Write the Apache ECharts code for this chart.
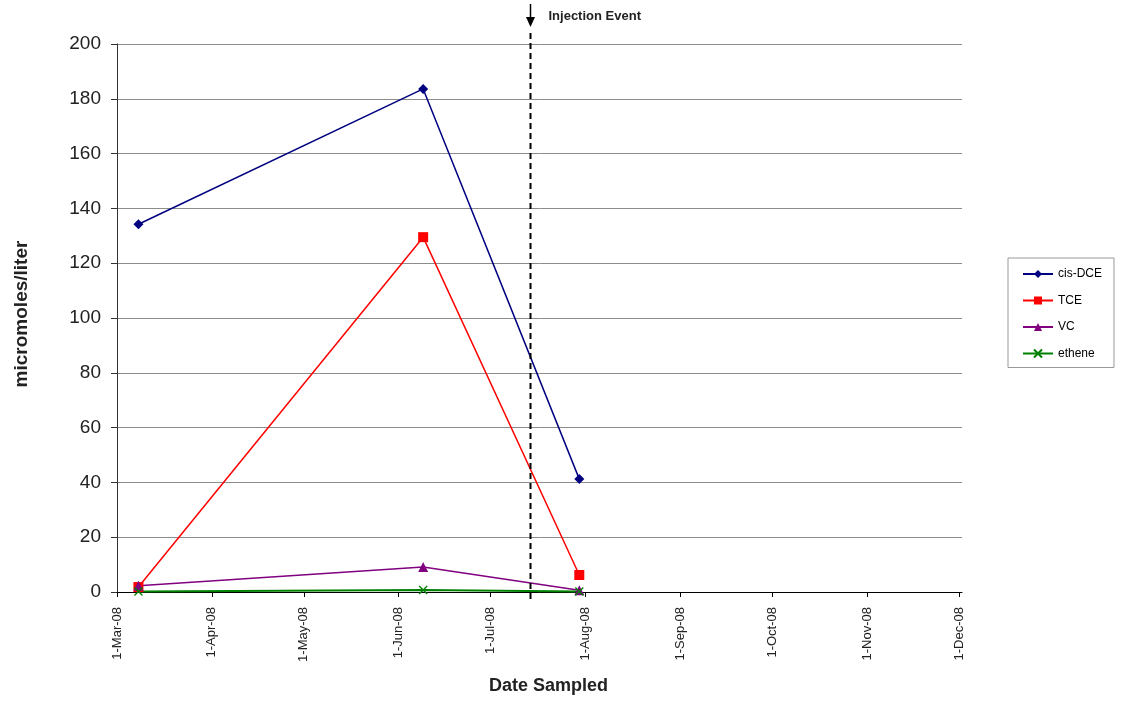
<!DOCTYPE html>
<html>
<head>
<meta charset="utf-8">
<script src="https://cdn.jsdelivr.net/npm/echarts@6/dist/echarts.min.js"></script>
<style>
html,body{margin:0;padding:0;background:#fff;}
#c{width:1127px;height:709px;}
</style>
</head>
<body>
<div id="c"></div>
<script>
// ---- data ----
const sampleDates = ['2008-03-08', '2008-06-09', '2008-07-30'];
const cisDCE = [134.2, 183.6, 41.2];
const TCE = [1.8, 129.5, 6.2];
const VC = [2.3, 9.1, 0.6];
const ethene = [0.2, 0.7, 0.2];
const tickDates = ['2008-03-01','2008-04-01','2008-05-01','2008-06-01','2008-07-01','2008-08-01','2008-09-01','2008-10-01','2008-11-01','2008-12-01'];
const tickLabels = ['1-Mar-08','1-Apr-08','1-May-08','1-Jun-08','1-Jul-08','1-Aug-08','1-Sep-08','1-Oct-08','1-Nov-08','1-Dec-08'];
const injectionDate = '2008-07-14';
const injectionLabel = 'Injection Event';

// days since 1-Mar-08
function dayOf(s) {
  const p = s.split('-').map(Number);
  return Math.round((Date.UTC(p[0], p[1] - 1, p[2]) - Date.UTC(2008, 2, 1)) / 86400000);
}
const sampleDays = sampleDates.map(dayOf);
const tickDays = tickDates.map(dayOf);
function pairs(vals) { return vals.map((v, i) => [sampleDays[i], v]); }

const FONT = '"Liberation Sans", Arial, sans-serif';
const chart = echarts.init(document.getElementById('c'), null, {renderer: 'canvas'});

const option = {
  backgroundColor: '#fff',
  animation: false,
  textStyle: {fontFamily: FONT},
  grid: {left: 117, right: 165, top: 44, bottom: 117, outerBoundsMode: 'none', containLabel: false},
  legend: {
    orient: 'vertical',
    left: 1008, top: 258,
    width: 106,
    borderColor: '#999', borderWidth: 1,
    padding: [10, 12, 8, 14],
    itemWidth: 30, itemHeight: 10, itemGap: 14.5,
    textStyle: {fontSize: 12, color: '#000', fontFamily: FONT},
    data: ['cis-DCE', 'TCE', 'VC', 'ethene']
  },
  xAxis: {
    type: 'value', min: 0, max: tickDays[tickDays.length - 1] + 1,
    name: 'Date Sampled', nameLocation: 'middle', nameGap: 85,
    nameTextStyle: {fontSize: 18, fontWeight: 'bold', color: '#222', fontFamily: FONT, padding: [0, 0, 0, 18]},
    axisLine: {show: true, lineStyle: {color: '#000', width: 1}},
    axisTick: {show: true, length: 5, lineStyle: {color: '#000'}, customValues: tickDays},
    axisLabel: {
      rotate: 90, fontSize: 13, color: '#222', margin: 15, fontFamily: FONT,
      customValues: tickDays,
      formatter: function (v) { const i = tickDays.indexOf(v); return i >= 0 ? tickLabels[i] : ''; }
    },
    splitLine: {show: false}
  },
  yAxis: {
    type: 'value', min: 0, max: 200, interval: 20,
    name: 'micromoles/liter', nameLocation: 'middle', nameGap: 86, nameRotate: 90,
    nameTextStyle: {fontSize: 19, fontWeight: 'bold', color: '#222', fontFamily: FONT, padding: [0, 0, 0, 8]},
    axisLine: {show: true, lineStyle: {color: '#333', width: 1}},
    axisTick: {show: true, length: 6, lineStyle: {color: '#333'}},
    axisLabel: {fontSize: 19, color: '#222', margin: 16, fontFamily: FONT},
    splitLine: {show: true, lineStyle: {color: '#8c8c8c', width: 1}}
  },
  series: [
    {
      name: 'cis-DCE', type: 'line', data: pairs(cisDCE),
      color: '#000080', symbol: 'diamond', symbolSize: 10,
      lineStyle: {width: 1.5, color: '#000080'}, itemStyle: {color: '#000080'}
    },
    {
      name: 'TCE', type: 'line', data: pairs(TCE),
      color: '#ff0000', symbol: 'rect', symbolSize: 10,
      lineStyle: {width: 1.5, color: '#ff0000'}, itemStyle: {color: '#ff0000'}
    },
    {
      name: 'VC', type: 'line', data: pairs(VC),
      color: '#800080', symbol: 'triangle', symbolSize: 10,
      lineStyle: {width: 1.5, color: '#800080'}, itemStyle: {color: '#800080'}
    },
    {
      name: 'ethene', type: 'line', data: pairs(ethene),
      color: '#008000', symbol: 'path://M0,0L10,10M10,0L0,10', symbolSize: 8,
      lineStyle: {width: 2, color: '#008000'},
      itemStyle: {color: '#008000', borderColor: '#008000', borderWidth: 1.3}
    }
  ]
};
chart.setOption(option);

// injection event marker positioned from the x scale
const px = Math.round(chart.convertToPixel({xAxisIndex: 0}, dayOf(injectionDate))) + 0.5;
chart.setOption({
  graphic: [
    {type: 'line', silent: true, z: 100,
     shape: {x1: px, y1: 33, x2: px, y2: 601},
     style: {stroke: '#000', lineWidth: 2, lineDash: [6, 4]}},
    {type: 'line', silent: true, z: 100,
     shape: {x1: px, y1: 4, x2: px, y2: 20},
     style: {stroke: '#000', lineWidth: 1.5}},
    {type: 'polygon', silent: true, z: 100,
     shape: {points: [[px - 4.5, 17], [px + 4.5, 17], [px, 27]]},
     style: {fill: '#000'}},
    {type: 'text', silent: true, z: 100,
     x: px + 18, y: 16,
     style: {text: injectionLabel, font: 'bold 13px ' + FONT, fill: '#222', verticalAlign: 'middle', align: 'left'}}
  ]
});
</script>
</body>
</html>
